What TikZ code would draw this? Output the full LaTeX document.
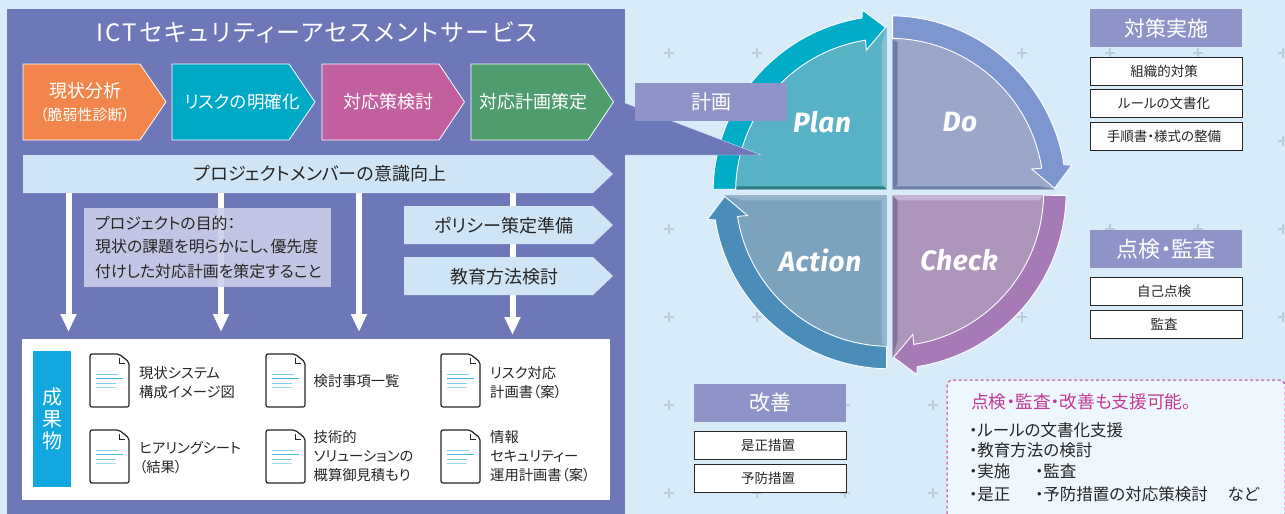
\documentclass[tikz,border=0pt]{standalone}
\usepackage{fontspec}
\usetikzlibrary{arrows.meta}
\setmainfont{Noto Sans CJK JP}[RawFeature={+palt}]
\newfontfamily\labelfont{Fira Sans}[LetterSpace=2]
\definecolor{pagebg}{HTML}{D8EBF9}
\definecolor{panel}{HTML}{6E78B8}
\definecolor{lightbar}{HTML}{CFE5F6}
\definecolor{headbox}{HTML}{8F94C8}
\definecolor{plusc}{HTML}{BCCDD9}
\definecolor{ink}{HTML}{262626}
\definecolor{magentatxt}{HTML}{C23A93}
\definecolor{orange1}{HTML}{F2854B}
\definecolor{teal1}{HTML}{00A9C6}
\definecolor{magenta1}{HTML}{C15F9F}
\definecolor{green1}{HTML}{4F9C6F}
\definecolor{boxfill}{HTML}{CCCFE9}
\definecolor{deliv}{HTML}{12A8DF}
\definecolor{supportbg}{HTML}{EFF7FE}
\definecolor{qplan}{HTML}{58B2C5}
\definecolor{qdo}{HTML}{9AA7CB}
\definecolor{qcheck}{HTML}{AE95BC}
\definecolor{qaction}{HTML}{7DA2BE}
\definecolor{qplanl}{HTML}{86C0CE}
\definecolor{qpland}{HTML}{2F7C85}
\definecolor{qdod}{HTML}{6F7CA3}
\definecolor{qdob}{HTML}{727FA3}
\definecolor{qcheckd}{HTML}{857399}
\definecolor{qcheckl}{HTML}{C6B2D4}
\definecolor{qactionl}{HTML}{93B5CE}
\definecolor{bplan}{HTML}{00ACC6}
\definecolor{bdo}{HTML}{7C97CF}
\definecolor{bcheck}{HTML}{A57AB6}
\definecolor{baction}{HTML}{4A8DB8}
\newcommand{\fsz}[1]{\fontsize{#1}{#1}\selectfont}
\newcommand{\lft}{\hspace*{-4pt}}
\newcommand{\ChevBox}[6]{% x1,x2,x3,y1,y2,style
  \path[#6] (#1,-#4) -- (#2,-#4) -- (#3,{-(#4+#5)/2}) -- (#2,-#5) -- (#1,-#5) -- cycle;}
\newcommand{\DocIcon}[2]{%
  \begin{scope}[shift={(#1,-#2)}]
    \draw[docline,rounded corners=2pt] (2,0) -- (29,0) -- (39,-8) -- (39,-53) -- (0,-53) -- (0,0) -- (2,0);
    \draw[line width=1pt,ink] (29,-4) -- (29,-9) -- (34.5,-9);
    \draw[line width=1pt,docl1] (6,-20.3) -- (28,-20.3);
    \draw[line width=1.4pt,docl2] (6,-24.7) -- (33,-24.7);
    \draw[line width=1pt,docl1] (6,-29.3) -- (25.5,-29.3);
    \draw[line width=1pt,docl3] (6,-33.7) -- (25.5,-33.7);
  \end{scope}}
\newcommand{\Band}[2]{% rotation, colour
  \begin{scope}[rotate=#1]
    \path[bandst,fill=#2] (179:176.5) arc[start angle=179,end angle=99,radius=176.5pt]
      -- (98.5:184.3) -- (91.4:165) -- (99.3:144) -- (99:154)
      arc[start angle=99,end angle=178.9,radius=154pt] -- cycle;
  \end{scope}}
\newcommand{\Quad}[2]{% rotation, colour
  \begin{scope}[rotate=#1]
    \fill[#2] (-3,3) -- (178.9:154) arc[start angle=178.9,end angle=99,radius=154pt]
      -- (99.3:144) -- (91.4:165) -- (-3,165) -- cycle;
  \end{scope}}
\tikzset{
  x=1pt,y=1pt,
  whitearrow/.style={draw=white,line width=6pt,-{Triangle[width=15pt,length=18pt,fill=white]}},
  chev/.style={draw=white,line width=.8pt,fill=#1},
  chevtext/.style={text=white,inner sep=0pt,anchor=center},
  barshape/.style={fill=lightbar},
  bartext/.style={text=ink,inner sep=0pt,anchor=center,font=\fsz{18}},
  headst/.style={fill=headbox,text=white,inner sep=0pt,anchor=center,minimum width=152pt,minimum height=38pt},
  itembox/.style={draw=ink,line width=.9pt,fill=white,text=ink,inner sep=0pt,anchor=center,minimum width=152pt,minimum height=28pt,font=\fsz{13.5}},
  doctext/.style={text=ink,inner sep=0pt,anchor=west,font=\fsz{14.3}},
  purposetext/.style={text=ink,inner sep=0pt,anchor=west,font=\fsz{15.9}},
  docline/.style={draw=ink,line width=1.2pt,fill=white},
  docl1/.style={color={rgb,255:red,125;green,208;blue,234}},
  docl2/.style={color={rgb,255:red,69;green,184;blue,222}},
  docl3/.style={color={rgb,255:red,159;green,220;blue,239}},
  bandst/.style={draw=white,line width=.9pt},
  pdca/.style={text=white,inner sep=0pt,anchor=center,font=\labelfont\bfseries\itshape\fsz{28}},
  plusmark/.style={draw=plusc,line width=1.2pt},
  listtext/.style={text=ink,inner sep=0pt,anchor=west,font=\fsz{16.5}},
}
\begin{document}
\begin{tikzpicture}
\path[use as bounding box,fill=pagebg] (0,0) rectangle (1285,-514);
% grid of plus marks
\foreach \px in {669,757,845,933,1022,1110,1198,1283}
  \foreach \py in {53,141,229,317,405,493}
    \draw[plusmark] (\px-5,-\py) -- (\px+5,-\py) (\px,-\py-5) -- (\px,-\py+5);
% main panel
\fill[panel] (7,-9) rectangle (625,-514);
\node[text=white,inner sep=0pt,font=\fsz{24}] (title) at (317,-33) {\addfontfeature{LetterSpace=9}ICTセキュリティーアセスメントサービス};
% chevrons
\ChevBox{23}{140}{166}{64}{140}{chev={orange1}}
\ChevBox{172}{289}{315}{64}{140}{chev={teal1}}
\ChevBox{322}{439}{464.5}{64}{140}{chev={magenta1}}
\ChevBox{471}{588}{613.5}{64}{140}{chev={green1}}
\node[chevtext,font=\fsz{18}] (s1a) at (85,-91) {現状分析};
\node[chevtext,font=\fsz{15}] (s1b) at (85,-115) {（脆弱性診断）};
\node[chevtext,font=\fsz{17.5}] (s2) at (242,-102) {リスクの明確化};
\node[chevtext,font=\fsz{18}] (s3) at (388,-102) {対応策検討};
\node[chevtext,font=\fsz{18}] (s4) at (533,-102) {対応計画策定};
% white arrows
\coordinate (a1s) at (68.5,-193); \coordinate (a1e) at (68.5,-332);
\coordinate (a2s) at (221,-193);  \coordinate (a2e) at (221,-332);
\coordinate (a3s) at (359,-193);  \coordinate (a3e) at (359,-332);
\coordinate (a4s) at (512.5,-193);\coordinate (a4e) at (512.5,-335);
\draw[whitearrow] (a1s) -- (a1e);
\draw[whitearrow] (a2s) -- (a2e);
\draw[whitearrow] (a3s) -- (a3e);
\draw[whitearrow] (a4s) -- (a4e);
% bars
\ChevBox{23}{593}{613}{155}{193}{barshape}
\node[bartext] (bar) at (320,-174) {プロジェクトメンバーの意識向上};
\ChevBox{404}{593}{613}{206}{244}{barshape}
\node[bartext] (pol) at (504,-226) {ポリシー策定準備};
\ChevBox{404}{593}{613}{257}{295}{barshape}
\node[bartext] (edu) at (504,-277) {教育方法検討};
% purpose box
\fill[boxfill,opacity=.9] (84,-208) rectangle (331,-287);
\node[purposetext] (p1) at (95,-223) {プロジェクトの目的：};
\node[purposetext] (p2) at (95,-247) {現状の課題を明らかにし、優先度};
\node[purposetext] (p3) at (95,-271) {付けした対応計画を策定すること};
% deliverables
\fill[white] (22,-339) rectangle (610,-500);
\fill[deliv] (33,-351) rectangle (71,-487);
\node[chevtext,font=\fsz{20}] (d1) at (52,-397) {成};
\node[chevtext,font=\fsz{20}] (d2) at (52,-419) {果};
\node[chevtext,font=\fsz{20}] (d3) at (52,-441) {物};
\DocIcon{90}{354}\DocIcon{266}{354}\DocIcon{441}{354}
\DocIcon{90}{430}\DocIcon{266}{430}\DocIcon{441}{430}
\node[doctext] (t1a) at (139,-372.7) {現状システム};
\node[doctext] (t1b) at (139,-392) {構成イメージ図};
\node[doctext] (t2) at (313.5,-381) {検討事項一覧};
\node[doctext] (t3a) at (490,-372.7) {リスク対応};
\node[doctext] (t3b) at (490,-392) {計画書（案）};
\node[doctext] (t4a) at (139,-447.7) {ヒアリングシート};
\node[doctext] (t4b) at (139,-467) {（結果）};
\node[doctext] (t5a) at (313.5,-436.7) {技術的};
\node[doctext] (t5b) at (313.5,-456) {ソリューションの};
\node[doctext] (t5c) at (313.5,-475) {概算御見積もり};
\node[doctext] (t6a) at (490,-436.7) {情報};
\node[doctext] (t6b) at (490,-456) {セキュリティー};
\node[doctext] (t6c) at (490,-475) {運用計画書（案）};
% PDCA wheel
\begin{scope}[shift={(889.6,-192.3)}]
  \Quad{0}{qplan}\Quad{-90}{qdo}\Quad{-180}{qcheck}\Quad{-270}{qaction}
  % bevels
  \fill[qplanl] (-3,3) -- (-8,8) -- (-8,148) -- (-3,165) -- cycle;
  \fill[qpland] (-3,3) -- (-6,6) -- (-152,6) -- (-154,3) -- cycle;
  \fill[qdod] (3,3) -- (8,8) -- (8,150) -- (3,153) -- cycle;
  \fill[qdob] (3,3) -- (6,6) -- (150,6) -- (165,3) -- cycle;
  \fill[qcheckd] (3,-3) -- (8,-8) -- (8,-148) -- (3,-165) -- cycle;
  \fill[qcheckl] (3,-3) -- (8,-8) -- (150,-8) -- (153,-3) -- cycle;
  \fill[qactionl] (-3,-3) -- (-8,-8) -- (-148,-8) -- (-165,-3) -- cycle;
  \fill[qactionl] (-3,-3) -- (-8,-8) -- (-8,-150) -- (-3,-154) -- cycle;
  \Band{0}{bplan}\Band{-90}{bdo}\Band{-180}{bcheck}\Band{-270}{baction}
\end{scope}
\node[pdca] (plan) at (822,-122) {Plan};
\node[pdca] (do) at (960,-122) {Do};
\node[pdca] (check) at (959,-260) {Check};
\node[pdca] (action) at (820,-260) {Action};
% callout wedge and head
\path[fill=panel,draw=lightbar,line width=.4pt] (625,-103) -- (761,-155) -- (625,-155);
\fill[panel] (620,-100) rectangle (625.3,-155);
\node[headst,minimum width=152pt,font=\fsz{20}] (keikaku) at (711,-102) {計画};
% right column
\node[headst,font=\fsz{21}] (h1) at (1166,-28) {対策実施};
\node[itembox] (i1) at (1166,-71) {\lft 組織的対策};
\node[itembox] (i2) at (1166,-103.5) {\lft ルールの文書化};
\node[itembox] (i3) at (1166,-136.3) {\lft 手順書・様式の整備};
\node[headst,font=\fsz{22}] (h2) at (1166,-249) {点検・監査};
\node[itembox] (i4) at (1166,-291.2) {\lft 自己点検};
\node[itembox] (i5) at (1166,-324.2) {\lft 監査};
\node[headst,font=\fsz{21}] (h3) at (770,-403) {改善};
\node[itembox] (i6) at (770,-445.2) {\lft 是正措置};
\node[itembox] (i7) at (770,-478.2) {\lft 予防措置};
% dashed support box
\path[fill=supportbg] (947,-514) -- (947,-386) arc[start angle=180,end angle=90,radius=6pt] -- (1279,-380) arc[start angle=90,end angle=0,radius=6pt] -- (1285,-514) -- cycle;
\draw[draw=magentatxt,line width=1pt,dash pattern=on 3pt off 2.5pt] (947,-514) -- (947,-386) arc[start angle=180,end angle=90,radius=6pt] -- (1279,-380) arc[start angle=90,end angle=0,radius=6pt] -- (1285,-514);
\node[text=magentatxt,inner sep=0pt,anchor=west,font=\fsz{17.7}] (sup) at (971,-401.7) {点検・監査・改善も支援可能。};
\node[listtext] (l1) at (969,-430) {・ルールの文書化支援};
\node[listtext] (l2) at (969,-450) {・教育方法の検討};
\node[listtext] (l3) at (969,-471.7) {\makebox[66pt][l]{・実施}・監査};
\node[listtext] (l4) at (969,-494) {\makebox[66pt][l]{・是正}\makebox[192.5pt][l]{・予防措置の対応策検討}など};
\end{tikzpicture}
\end{document}
